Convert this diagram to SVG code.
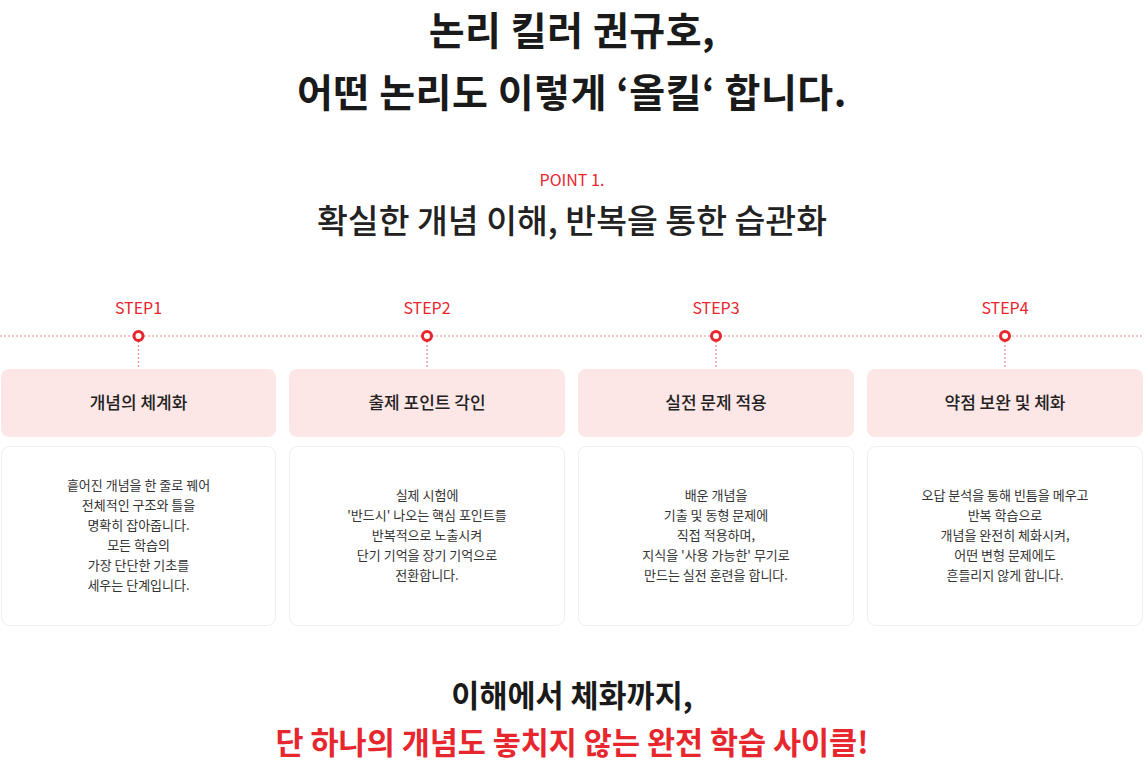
<svg xmlns="http://www.w3.org/2000/svg" width="1144" height="766" viewBox="0 0 1144 766">
<style>
text{font-family:"Noto Sans CJK KR","Noto Sans",sans-serif;text-anchor:middle}
.h1{font-size:39px;font-weight:700;fill:#1a1a1a;letter-spacing:0.5px}
.pt{font-size:16px;fill:#e8262e}
.sub{font-size:33.5px;font-weight:500;fill:#222}
.step{font-size:16px;fill:#e8262e}
.hd{fill:#fde6e6}
.bd{fill:#fff;stroke:#eeeeee;stroke-width:1}
.ht{font-size:17px;font-weight:500;fill:#222}
.bt{font-size:13px;fill:#333}
.dot{stroke:#f08a8a;stroke-width:1.2;stroke-dasharray:2 2;fill:none}
.c{fill:#fff;stroke:#e8262e;stroke-width:3}
.bl{font-size:30.5px;font-weight:700}
</style>
<rect width="1144" height="766" fill="#fff"/>
<text class="h1" x="572" y="45">논리 킬러 권규호,</text>
<text class="h1" x="572" y="107">어떤 논리도 이렇게 ‘올킬‘ 합니다.</text>
<text class="pt" x="572" y="186">POINT 1.</text>
<text class="sub" x="572" y="233">확실한 개념 이해, 반복을 통한 습관화</text>
<g id="connectors">
<line class="dot" x1="0" y1="336" x2="1144" y2="336"/>
<line class="dot" x1="138.5" y1="341" x2="138.5" y2="369"/>
<line class="dot" x1="427" y1="341" x2="427" y2="369"/>
<line class="dot" x1="716" y1="341" x2="716" y2="369"/>
<line class="dot" x1="1005" y1="341" x2="1005" y2="369"/>
</g>
<g id="step1">
<text class="step" x="138.5" y="314">STEP1</text>
<circle class="c" cx="138.5" cy="336" r="4.5"/>
<rect class="hd" x="1" y="369" width="275" height="68" rx="8"/>
<text class="ht" x="138.5" y="409">개념의 체계화</text>
<rect class="bd" x="1.5" y="446.5" width="274" height="179" rx="8"/>
<text class="bt" x="138.5" y="490">흩어진 개념을 한 줄로 꿰어</text>
<text class="bt" x="138.5" y="510">전체적인 구조와 틀을</text>
<text class="bt" x="138.5" y="530">명확히 잡아줍니다.</text>
<text class="bt" x="138.5" y="550">모든 학습의</text>
<text class="bt" x="138.5" y="570">가장 단단한 기초를</text>
<text class="bt" x="138.5" y="590">세우는 단계입니다.</text>
</g>
<g id="step2">
<text class="step" x="427" y="314">STEP2</text>
<circle class="c" cx="427" cy="336" r="4.5"/>
<rect class="hd" x="289" y="369" width="276" height="68" rx="8"/>
<text class="ht" x="427" y="409">출제 포인트 각인</text>
<rect class="bd" x="289.5" y="446.5" width="275" height="179" rx="8"/>
<text class="bt" x="427" y="500">실제 시험에</text>
<text class="bt" x="427" y="520">'반드시' 나오는 핵심 포인트를</text>
<text class="bt" x="427" y="540">반복적으로 노출시켜</text>
<text class="bt" x="427" y="560">단기 기억을 장기 기억으로</text>
<text class="bt" x="427" y="580">전환합니다.</text>
</g>
<g id="step3">
<text class="step" x="716" y="314">STEP3</text>
<circle class="c" cx="716" cy="336" r="4.5"/>
<rect class="hd" x="578" y="369" width="276" height="68" rx="8"/>
<text class="ht" x="716" y="409">실전 문제 적용</text>
<rect class="bd" x="578.5" y="446.5" width="275" height="179" rx="8"/>
<text class="bt" x="716" y="500">배운 개념을</text>
<text class="bt" x="716" y="520">기출 및 동형 문제에</text>
<text class="bt" x="716" y="540">직접 적용하며,</text>
<text class="bt" x="716" y="560">지식을 '사용 가능한' 무기로</text>
<text class="bt" x="716" y="580">만드는 실전 훈련을 합니다.</text>
</g>
<g id="step4">
<text class="step" x="1005" y="314">STEP4</text>
<circle class="c" cx="1005" cy="336" r="4.5"/>
<rect class="hd" x="867" y="369" width="276" height="68" rx="8"/>
<text class="ht" x="1005" y="409">약점 보완 및 체화</text>
<rect class="bd" x="867.5" y="446.5" width="275" height="179" rx="8"/>
<text class="bt" x="1005" y="500">오답 분석을 통해 빈틈을 메우고</text>
<text class="bt" x="1005" y="520">반복 학습으로</text>
<text class="bt" x="1005" y="540">개념을 완전히 체화시켜,</text>
<text class="bt" x="1005" y="560">어떤 변형 문제에도</text>
<text class="bt" x="1005" y="580">흔들리지 않게 합니다.</text>
</g>
<text class="bl" x="572" y="707" fill="#1a1a1a">이해에서 체화까지,</text>
<text class="bl" x="572" y="754" fill="#e8262e">단 하나의 개념도 놓치지 않는 완전 학습 사이클!</text>
</svg>
